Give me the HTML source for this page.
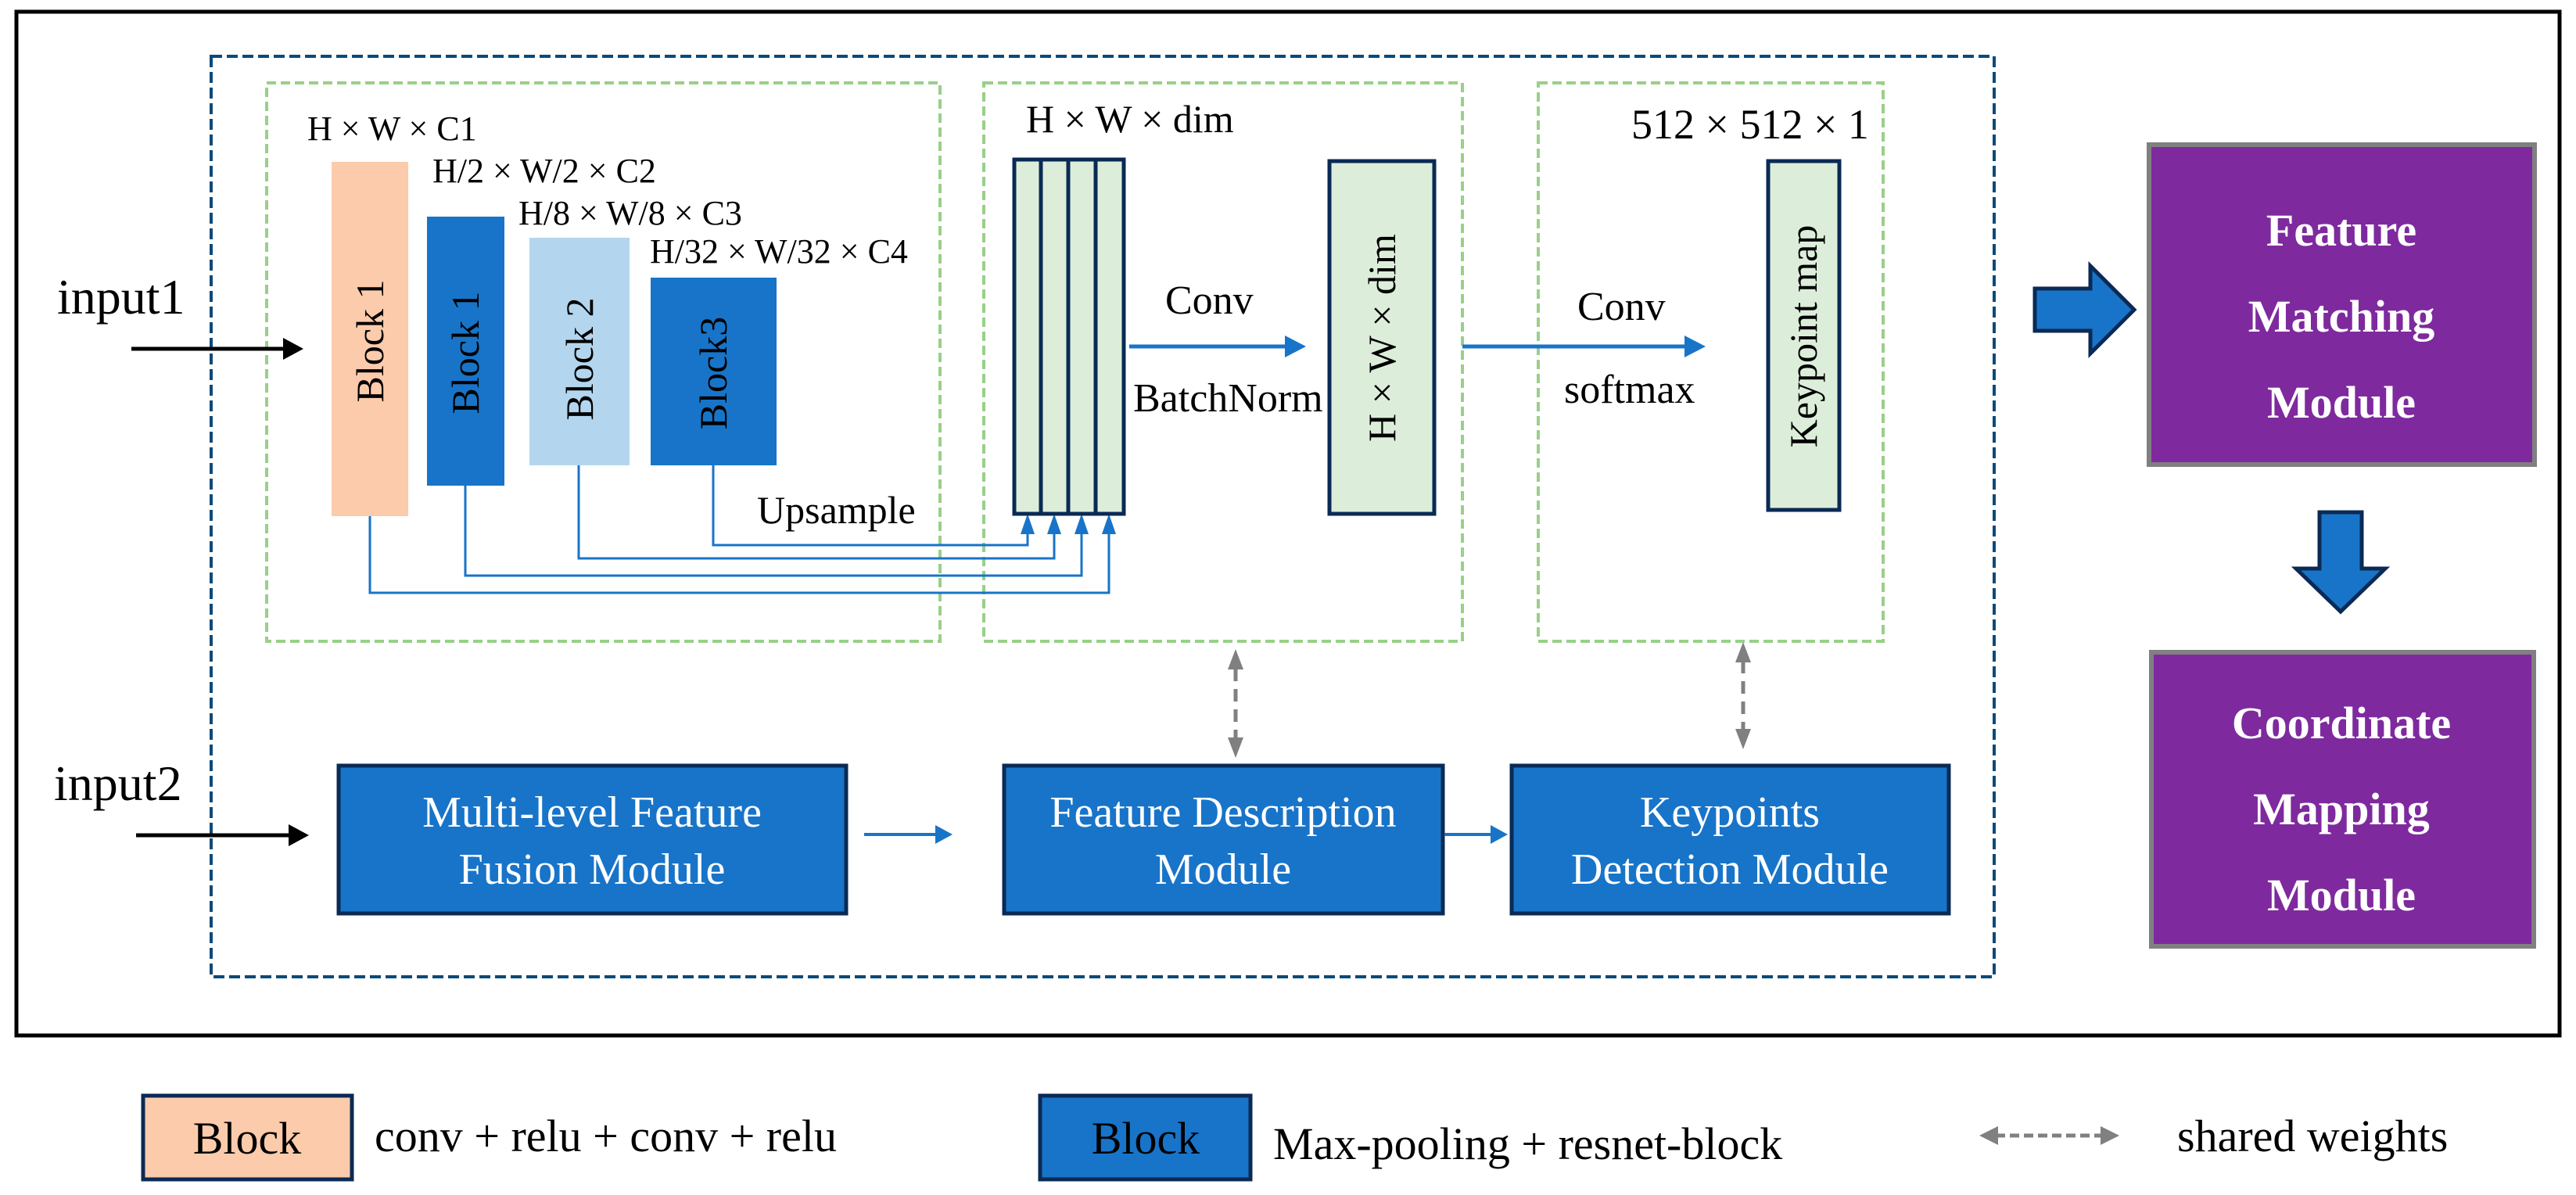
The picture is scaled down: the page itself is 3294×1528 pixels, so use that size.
<!DOCTYPE html>
<html><head><meta charset="utf-8"><style>
html,body{margin:0;padding:0;background:#fff;}
svg{display:block;font-family:'Liberation Serif','DejaVu Serif',serif;}
svg text{font-family:'Liberation Serif','DejaVu Serif',serif;}
</style></head><body>
<svg width="3294" height="1528" viewBox="0 0 3294 1528" xmlns="http://www.w3.org/2000/svg" font-family="Liberation Serif, serif">
<rect width="3294" height="1528" fill="#fff"/>
<!-- outer border -->
<rect x="21" y="15" width="3252" height="1309" fill="none" stroke="#000" stroke-width="5"/>
<!-- dark blue dashed -->
<rect x="270" y="72" width="2280" height="1177" fill="none" stroke="#0b4a7a" stroke-width="4" stroke-dasharray="14 6"/>
<!-- green dashed boxes -->
<g fill="none" stroke="#98d088" stroke-width="4" stroke-dasharray="12 6">
<rect x="341" y="106" width="861" height="714"/>
<rect x="1258" y="106" width="612" height="714"/>
<rect x="1967" y="106" width="441" height="714"/>
</g>
<!-- labels -->
<g font-size="44" fill="#000" font-family="Liberation Serif, serif">
<text x="393" y="179">H × W × C1</text>
<text x="553" y="233">H/2 × W/2 × C2</text>
<text x="663" y="287">H/8 × W/8 × C3</text>
<text x="831" y="336">H/32 × W/32 × C4</text>
</g>
<text x="73" y="401" font-size="64" font-family="Liberation Serif, serif">input1</text>
<line x1="168" y1="446" x2="370" y2="446" stroke="#000" stroke-width="5"/>
<polygon points="388,446 362,432 362,460" fill="#000"/>
<!-- blocks -->
<rect x="424" y="207" width="98" height="453" fill="#fccbab"/>
<rect x="546" y="277" width="99" height="344" fill="#1874c8"/>
<rect x="677" y="304" width="128" height="291" fill="#b3d6ee"/>
<rect x="832" y="355" width="161" height="240" fill="#1874c8"/>
<g font-size="50" fill="#000" text-anchor="middle" dominant-baseline="central" font-family="Liberation Serif, serif">
<text transform="translate(473,436) rotate(-90)">Block 1</text>
<text transform="translate(595,451) rotate(-90)">Block 1</text>
<text transform="translate(741,459) rotate(-90)">Block 2</text>
<text transform="translate(912,477) rotate(-90)">Block3</text>
</g>
<!-- connectors -->
<g fill="none" stroke="#1874c8" stroke-width="3">
<polyline points="912,595 912,697 1314,697 1314,670"/>
<polyline points="740,595 740,714 1348,714 1348,670"/>
<polyline points="595,621 595,736 1383,736 1383,670"/>
<polyline points="473,660 473,758 1418,758 1418,670"/>
</g>
<g fill="#1874c8">
<polygon points="1314,657 1305,683 1323,683"/>
<polygon points="1348,657 1339,683 1357,683"/>
<polygon points="1383,657 1374,683 1392,683"/>
<polygon points="1418,657 1409,683 1427,683"/>
</g>
<g font-family="Liberation Serif, serif">
<text x="968" y="669" font-size="50">Upsample</text>
<text x="1312" y="169" font-size="50">H × W × dim</text>
</g>
<!-- stack -->
<rect x="1297" y="204" width="140" height="453" fill="#dceeda" stroke="#0a2a55" stroke-width="5"/>
<g stroke="#0a2a55" stroke-width="5"><line x1="1331" y1="204" x2="1331" y2="657"/><line x1="1366" y1="204" x2="1366" y2="657"/><line x1="1401" y1="204" x2="1401" y2="657"/></g>
<line x1="1444" y1="443" x2="1650" y2="443" stroke="#1874c8" stroke-width="5"/>
<polygon points="1670,443 1643,429 1643,457" fill="#1874c8"/>
<g font-family="Liberation Serif, serif" font-size="52">
<text x="1490" y="401">Conv</text>
<text x="1449" y="526">BatchNorm</text>
<text x="2017" y="409">Conv</text>
<text x="2000" y="515">softmax</text>
<text x="2086" y="177" font-size="54">512 × 512 × 1</text>
</g>
<rect x="1700" y="206" width="134" height="451" fill="#dceeda" stroke="#0a2a55" stroke-width="5"/>
<text transform="translate(1767,432) rotate(-90)" font-size="50" text-anchor="middle" dominant-baseline="central" font-family="Liberation Serif, serif">H × W × dim</text>
<line x1="1870" y1="443" x2="2160" y2="443" stroke="#1874c8" stroke-width="5"/>
<polygon points="2181,443 2154,429 2154,457" fill="#1874c8"/>
<rect x="2261" y="206" width="91" height="446" fill="#dceeda" stroke="#0a2a55" stroke-width="5"/>
<text transform="translate(2306,430) rotate(-90)" font-size="50" text-anchor="middle" dominant-baseline="central" font-family="Liberation Serif, serif">Keypoint map</text>
<!-- gray dashed double arrows -->
<g stroke="#808080" stroke-width="5" stroke-dasharray="16 10">
<line x1="1580" y1="855" x2="1580" y2="945"/>
<line x1="2229" y1="845" x2="2229" y2="935"/>
</g>
<g fill="#808080">
<polygon points="1580,830 1570,856 1590,856"/><polygon points="1580,969 1570,943 1590,943"/>
<polygon points="2229,821 2219,847 2239,847"/><polygon points="2229,958 2219,932 2239,932"/>
</g>
<!-- modules -->
<g fill="#1874c8" stroke="#0a2a55" stroke-width="5">
<rect x="433" y="979" width="649" height="189"/>
<rect x="1284" y="979" width="561" height="189"/>
<rect x="1933" y="979" width="559" height="189"/>
</g>
<g font-size="56" fill="#fff" text-anchor="middle" font-family="Liberation Serif, serif">
<text x="757" y="1057">Multi-level Feature</text><text x="757" y="1130">Fusion Module</text>
<text x="1564" y="1057">Feature Description</text><text x="1564" y="1130">Module</text>
<text x="2212" y="1057">Keypoints</text><text x="2212" y="1130">Detection Module</text>
</g>
<text x="69" y="1023" font-size="64" font-family="Liberation Serif, serif">input2</text>
<line x1="174" y1="1068" x2="376" y2="1068" stroke="#000" stroke-width="5"/>
<polygon points="395,1068 369,1054 369,1082" fill="#000"/>
<line x1="1105" y1="1067" x2="1200" y2="1067" stroke="#1874c8" stroke-width="4"/>
<polygon points="1218,1067 1196,1055 1196,1079" fill="#1874c8"/>
<line x1="1847" y1="1067" x2="1910" y2="1067" stroke="#1874c8" stroke-width="4"/>
<polygon points="1928,1067 1906,1055 1906,1079" fill="#1874c8"/>
<!-- purple boxes -->
<g fill="#7e2a9e" stroke="#808080" stroke-width="6">
<rect x="2748" y="185" width="493" height="409"/>
<rect x="2751" y="834" width="489" height="376"/>
</g>
<g font-size="58" font-weight="bold" fill="#fff" text-anchor="middle" font-family="Liberation Serif, serif">
<text x="2994" y="314">Feature</text><text x="2994" y="424">Matching</text><text x="2994" y="534">Module</text>
<text x="2994" y="944">Coordinate</text><text x="2994" y="1054">Mapping</text><text x="2994" y="1164">Module</text>
</g>
<polygon points="2602,369 2673,369 2673,340 2729,396 2673,452 2673,423 2602,423" fill="#1874c8" stroke="#0a2a55" stroke-width="5"/>
<polygon points="2966,655 3020,655 3020,727 3050,727 2993,782 2936,727 2966,727" fill="#1874c8" stroke="#0a2a55" stroke-width="5"/>
<!-- legend -->
<rect x="183" y="1401" width="267" height="107" fill="#fccbab" stroke="#0a2a55" stroke-width="5"/>
<rect x="1330" y="1401" width="269" height="107" fill="#1874c8" stroke="#0a2a55" stroke-width="5"/>
<g font-size="58" font-family="Liberation Serif, serif">
<text x="316" y="1475" text-anchor="middle">Block</text>
<text x="479" y="1472">conv + relu + conv + relu</text>
<text x="1465" y="1475" text-anchor="middle">Block</text>
<text x="1628" y="1482">Max-pooling + resnet-block</text>
<text x="2784" y="1472">shared weights</text>
</g>
<line x1="2552" y1="1452" x2="2690" y2="1452" stroke="#808080" stroke-width="5" stroke-dasharray="12 6"/>
<polygon points="2531,1452 2555,1440 2555,1464" fill="#808080"/>
<polygon points="2710,1452 2686,1440 2686,1464" fill="#808080"/>
</svg>
</body></html>
